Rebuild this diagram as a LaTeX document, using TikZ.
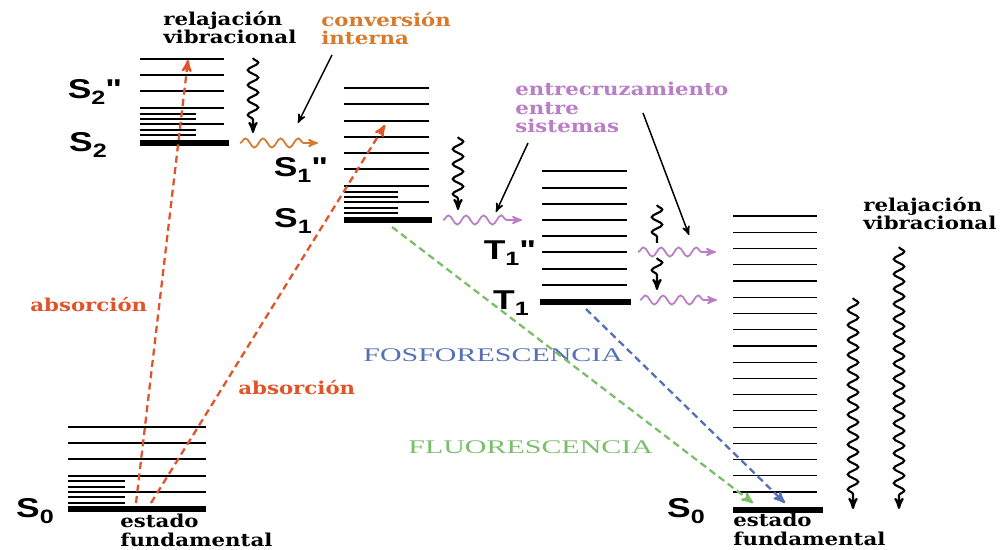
\documentclass[tikz,border=0pt]{standalone}
\usepackage{fontspec}
\setmainfont{DejaVu Serif}[FakeStretch=1.2]
\newfontfamily\lvlfont{Liberation Sans}[FakeStretch=1.3]
\newfontfamily\capfont{Liberation Serif}[FakeStretch=1.55]
\usepackage{tikz}
\usetikzlibrary{arrows}
\usetikzlibrary{decorations.pathmorphing}
\definecolor{absred}{RGB}{224,84,44}
\definecolor{convorange}{RGB}{214,122,46}
\definecolor{iscpurple}{RGB}{186,126,198}
\definecolor{fluogreen}{RGB}{122,190,104}
\definecolor{fosfoblue}{RGB}{86,112,180}
\newcommand{\lvl}[3]{{\lvlfont\bfseries #1\raisebox{-0.45ex}{\fontsize{11}{11}\selectfont #2}#3}}

\begin{document}
\begin{tikzpicture}[x=0.02cm, y=-0.02cm,
    level/.style = {line width=0.7pt},
    ground/.style = {line width=3pt},
    lbl/.style = {font=\fontsize{15.5}{15.5}\selectfont, inner sep=0pt},
    note/.style = {font=\fontsize{10.1}{10.4}\selectfont\bfseries, align=left, inner sep=0pt, anchor=north west},
    capnote/.style = {font=\fontsize{11}{11}\selectfont\capfont, anchor=west, inner sep=0pt},
    absor/.style = {absred, line width=1.3pt, dash pattern=on 4pt off 2.5pt, -stealth'},
    emis/.style = {line width=1.3pt, dash pattern=on 4pt off 2.5pt, -stealth'},
    wavy/.style = {decorate, decoration={snake, amplitude=3pt, segment length=8.5pt, post length=5pt}, line width=1.2pt, -stealth'},
    hwavy/.style = {wavy, line width=1pt, decoration={amplitude=2.6pt, segment length=10pt}},
    pointer/.style = {line width=0.85pt, -stealth'}]
    \useasboundingbox (0,0) rectangle (1003,550);

    % levels S2
    \foreach \y in {59,75,91,108,124} \draw[level] (140,\y) -- (224,\y);
    \foreach \y in {114,119,130,135} \draw[level] (140,\y) -- (196,\y);
    \draw[ground] (140,143) -- (229,143);
    % levels S1
    \foreach \y in {88,104,121,137,153,169,186,202} \draw[level] (344,\y) -- (429,\y);
    \foreach \y in {192,197,208,213} \draw[level] (344,\y) -- (398,\y);
    \draw[ground] (344,220) -- (432,220);
    % levels T1
    \foreach \y in {171,188,204,220,236,252,269,285} \draw[level] (542,\y) -- (627,\y);
    \draw[ground] (540,302) -- (631,302);
    % levels S0 (left)
    \foreach \y in {427,443,459,476,492} \draw[level] (68,\y) -- (206,\y);
    \foreach \y in {481,487,497,503} \draw[level] (68,\y) -- (125,\y);
    \draw[ground] (68,509) -- (206,509);
    % levels S0 (right)
    \foreach \i in {0,...,17} \draw[level] (733,216+16.24*\i) -- (817,216+16.24*\i);
    \draw[ground] (733,510) -- (823,510);

    % state labels
    \node[lbl] (s2v) at (95,92) {\lvl{S}{2}{"}};
    \node[lbl] (s2) at (88,145) {\lvl{S}{2}{}};
    \node[lbl] (s1v) at (301,170) {\lvl{S}{1}{"}};
    \node[lbl] (s1) at (293,221) {\lvl{S}{1}{}};
    \node[lbl] (t1v) at (510,253) {\lvl{T}{1}{"}};
    \node[lbl] (t1) at (511,303) {\lvl{T}{1}{}};
    \node[lbl] (s0a) at (35,511) {\lvl{S}{0}{}};
    \node[lbl] (s0b) at (686,511) {\lvl{S}{0}{}};

    % texts
    \node[note] (relaxa) at (163,11) {relajación\\vibracional};
    \node[note, convorange] (conv) at (321,12) {conversión\\interna};
    \node[note, iscpurple] (isc) at (515,82) {entrecruzamiento\\entre\\sistemas};
    \node[note] (relaxb) at (863,197) {relajación\\vibracional};
    \node[note] (funda) at (120,514) {estado\\fundamental};
    \node[note] (fundb) at (733,513) {estado\\fundamental};
    \node[note, absred, anchor=west] (absa) at (30,305) {absorción};
    \node[note, absred, anchor=west] (absb) at (238,388) {absorción};
    \node[capnote, fosfoblue] (fosfo) at (363,355) {FOSFORESCENCIA};
    \node[capnote, fluogreen] (fluo) at (408,447) {FLUORESCENCIA};

    % end points
    \coordinate (a1) at (136,503);  \coordinate (a1e) at (188,60);
    \coordinate (a2) at (151,503);  \coordinate (a2e) at (385,125);
    \coordinate (f1) at (392,227);  \coordinate (f1e) at (753,503);
    \coordinate (p1) at (586,309);  \coordinate (p1e) at (785,503);
    \coordinate (w1) at (253,58);   \coordinate (w1e) at (253,133);
    \coordinate (w2) at (458,137);  \coordinate (w2e) at (458,210);
    \coordinate (w3) at (657,205);  \coordinate (w3e) at (657,243);
    \coordinate (w4) at (657,258);  \coordinate (w4e) at (657,290);
    \coordinate (w5) at (853,298);  \coordinate (w5e) at (853,509);
    \coordinate (w6) at (899,247);  \coordinate (w6e) at (899,509);
    \coordinate (h1) at (240,143);  \coordinate (h1e) at (318,143);
    \coordinate (h2) at (443,220);  \coordinate (h2e) at (522,220);
    \coordinate (h3) at (638,252);  \coordinate (h3e) at (716,252);
    \coordinate (h4) at (640,300);  \coordinate (h4e) at (717,300);
    \coordinate (c1) at (332,55);   \coordinate (c1e) at (298,123);
    \coordinate (c2) at (528,143);  \coordinate (c2e) at (496,212);
    \coordinate (c3) at (643,113);  \coordinate (c3e) at (689,235);

    % radiative
    \draw[absor] (a1) -- (a1e);
    \draw[absor] (a2) -- (a2e);
    \draw[emis, fluogreen] (f1) -- (f1e);
    \draw[emis, fosfoblue] (p1) -- (p1e);
    % non radiative
    \draw[wavy] (w1) -- (w1e);
    \draw[wavy] (w2) -- (w2e);
    \draw[wavy, -, decoration={post length=0pt}] (w3) -- (w3e);
    \draw[wavy] (w4) -- (w4e);
    \draw[wavy] (w5) -- (w5e);
    \draw[wavy] (w6) -- (w6e);
    \draw[hwavy, convorange] (h1) -- (h1e);
    \draw[hwavy, iscpurple] (h2) -- (h2e);
    \draw[hwavy, iscpurple] (h3) -- (h3e);
    \draw[hwavy, iscpurple] (h4) -- (h4e);
    % pointers
    \draw[pointer] (c1) -- (c1e);
    \draw[pointer] (c2) -- (c2e);
    \draw[pointer] (c3) -- (c3e);
\end{tikzpicture}
\end{document}
